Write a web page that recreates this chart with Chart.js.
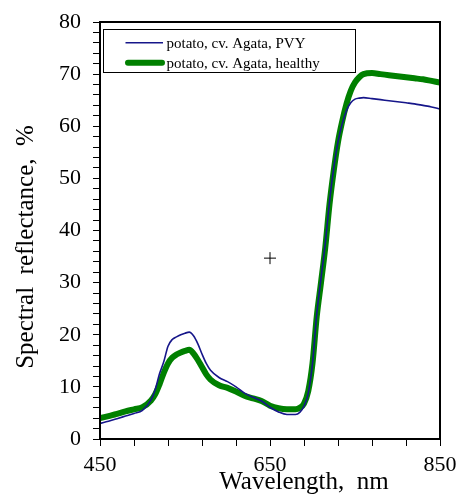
<!DOCTYPE html>
<html>
<head>
<meta charset="utf-8">
<script src="https://cdn.jsdelivr.net/npm/chart.js@4.4.0/dist/chart.umd.min.js"></script>
<style>
  html, body { margin: 0; padding: 0; background: #fff; }
  #wrap { width: 457px; height: 494px; position: relative; }
</style>
</head>
<body>
<div id="wrap"><canvas id="c" width="457" height="494"></canvas></div>
<script>
// ---- data ----
const wavelengths = [450,460,470,480,490,500,510,515,520,525,530,535,540,545,550,555,560,565,570,575,580,590,600,610,620,630,640,650,660,670,680,685,690,695,700,705,710,715,720,725,730,735,740,745,750,755,760,770,780,790,800,810,820,830,840,850];
const pvyValues = [3.0,3.4,3.9,4.4,4.9,5.5,7.5,9.5,12.5,14.8,17.8,19.1,19.6,20.0,20.3,20.5,19.8,18.3,16.3,14.5,13.2,11.8,11.0,10.0,8.8,8.0,7.3,6.1,5.2,4.7,4.7,5.1,6.3,8.8,14.5,24.0,30.8,37.5,45.5,52.0,57.0,60.5,63.0,64.5,65.2,65.4,65.5,65.3,65.1,64.9,64.7,64.5,64.3,64.0,63.7,63.3];
const healthyValues = [4.0,4.4,4.8,5.3,5.7,6.1,7.4,8.6,10.5,12.7,14.5,15.6,16.2,16.6,16.9,17.1,16.4,15.2,13.8,12.4,11.4,10.3,9.8,9.1,8.3,7.8,7.3,6.4,5.9,5.7,5.7,6.0,6.8,9.2,14.5,23.5,30.0,36.7,45.0,51.5,57.0,61.0,64.3,66.8,68.4,69.4,70.0,70.2,70.0,69.8,69.6,69.4,69.2,69.0,68.7,68.4];
const seriesLabels = ['potato, cv. Agata, PVY', 'potato, cv. Agata, healthy'];
const markerX = [650];
const markerY = [34.7];
const xTickValues = [450,490,530,570,610,650,690,730,770,810,850];
const xTickLabels = [450,650,850];
const yTickValues = [0,2,4,6,8,10,12,14,16,18,20,22,24,26,28,30,32,34,36,38,40,42,44,46,48,50,52,54,56,58,60,62,64,66,68,70,72,74,76,78,80];
const yTickLabels = [0,10,20,30,40,50,60,70,80];
const xTitle = 'Wavelength,  nm';
const yTitle = 'Spectral  reflectance,  %';

const toXY = (xs, ys) => xs.map((x, i) => ({x: x, y: ys[i]}));
const SERIF = '"Liberation Serif", "Times New Roman", serif';

const framePlugin = {
  id: 'frame',
  afterDatasetsDraw(chart) {
    const {ctx, chartArea: a} = chart;
    ctx.save();
    ctx.strokeStyle = '#000';
    ctx.lineWidth = 2;
    ctx.strokeRect(a.left, a.top, a.right - a.left, a.bottom - a.top);
    ctx.restore();
  },
  afterDraw(chart) {
    const ctx = chart.ctx;
    ctx.save();
    // legend
    const bx = 103.5, by = 29.5, bw = 252, bh = 43;
    ctx.fillStyle = '#fff';
    ctx.fillRect(bx, by, bw, bh);
    ctx.strokeStyle = '#000';
    ctx.lineWidth = 1;
    ctx.strokeRect(bx, by, bw, bh);
    const ds = chart.data.datasets;
    const rows = [42.7, 62.7];
    for (let i = 0; i < 2; i++) {
      ctx.beginPath();
      ctx.strokeStyle = ds[i].borderColor;
      ctx.lineWidth = ds[i].borderWidth;
      ctx.lineCap = i === 1 ? 'round' : 'butt';
      ctx.moveTo(i === 1 ? 128 : 125.5, rows[i]);
      ctx.lineTo(i === 1 ? 162 : 163, rows[i]);
      ctx.stroke();
      ctx.fillStyle = '#000';
      ctx.font = '15px ' + SERIF;
      ctx.textBaseline = 'middle';
      ctx.textAlign = 'left';
      ctx.fillText(ds[i].label, 166.5, rows[i] + 1);
    }
    // axis titles
    ctx.fillStyle = '#000';
    ctx.font = '25px ' + SERIF;
    ctx.textAlign = 'center';
    ctx.textBaseline = 'alphabetic';
    ctx.fillText(xTitle, 304, 488.5);
    ctx.translate(33, 247);
    ctx.rotate(-Math.PI / 2);
    ctx.fillText(yTitle, 0, 0);
    ctx.restore();
  }
};

new Chart(document.getElementById('c'), {
  type: 'line',
  data: {
    datasets: [
      {
        label: seriesLabels[0],
        data: toXY(wavelengths, pvyValues),
        borderColor: '#16168a',
        borderWidth: 1.6,
        pointRadius: 0,
        cubicInterpolationMode: 'monotone',
        fill: false
      },
      {
        label: seriesLabels[1],
        data: toXY(wavelengths, healthyValues),
        borderColor: '#008000',
        borderWidth: 6,
        borderCapStyle: 'round',
        borderJoinStyle: 'round',
        pointRadius: 0,
        cubicInterpolationMode: 'monotone',
        fill: false
      },
      {
        type: 'scatter',
        label: 'marker',
        data: toXY(markerX, markerY),
        pointStyle: 'cross',
        pointRadius: 6,
        borderColor: '#000',
        backgroundColor: '#000',
        borderWidth: 1,
        showLine: false
      }
    ]
  },
  options: {
    responsive: false,
    animation: false,
    devicePixelRatio: 1,
    layout: { padding: { left: 0, top: 22, right: 17, bottom: 0 } },
    plugins: { legend: { display: false }, tooltip: { enabled: false } },
    scales: {
      x: {
        type: 'linear',
        min: 450, max: 850,
        afterBuildTicks: s => { s.ticks = xTickValues.map(v => ({value: v})); },
        afterFit: s => { s.height = 55; s.paddingLeft = 0; s.paddingRight = 0; },
        grid: { drawOnChartArea: false, drawTicks: true, tickLength: 7, tickColor: '#000', tickWidth: 1 },
        border: { display: true, color: '#000', width: 2 },
        ticks: {
          autoSkip: false, maxRotation: 0, padding: 6, color: '#000',
          font: { family: SERIF, size: 22 },
          callback: v => xTickLabels.includes(v) ? String(v) : ''
        }
      },
      y: {
        type: 'linear',
        min: 0, max: 80,
        afterBuildTicks: s => { s.ticks = yTickValues.map(v => ({value: v})); },
        afterFit: s => { s.width = 100; s.paddingTop = 0; s.paddingBottom = 0; },
        grid: { drawOnChartArea: false, drawTicks: true, tickLength: 7, tickColor: '#000', tickWidth: 1 },
        border: { display: true, color: '#000', width: 2 },
        ticks: {
          autoSkip: false, padding: 12, color: '#000',
          font: { family: SERIF, size: 22 },
          callback: v => yTickLabels.includes(v) ? String(v) : ''
        }
      }
    }
  },
  plugins: [framePlugin]
});
</script>
</body>
</html>
